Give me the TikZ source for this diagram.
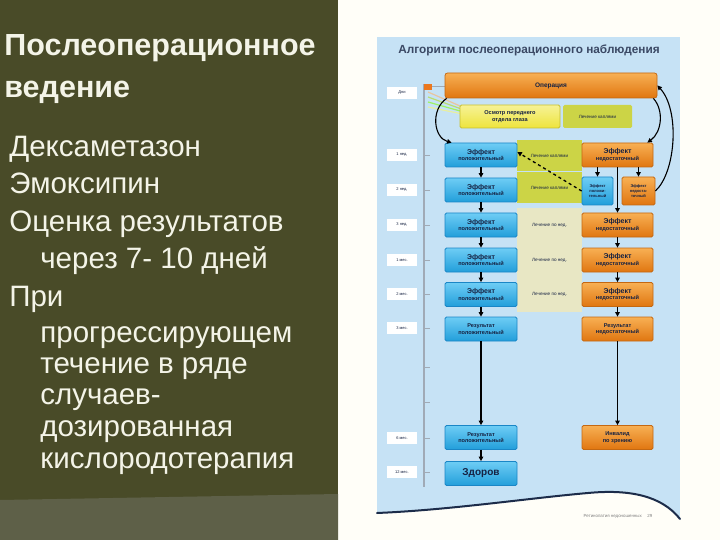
\documentclass[tikz,border=0pt]{standalone}
\usepackage{fontspec}
\setmainfont{Liberation Sans}
\usetikzlibrary{arrows.meta}

\definecolor{slidebg}{RGB}{73,75,40}
\definecolor{slidefoot}{RGB}{94,96,72}
\definecolor{slidetext}{RGB}{244,244,232}
\definecolor{paper}{RGB}{255,254,248}
\definecolor{panelblue}{RGB}{198,226,245}
\definecolor{waveline}{RGB}{28,44,74}
\definecolor{navy}{RGB}{22,34,66}
\definecolor{titlegray}{RGB}{58,72,100}
\definecolor{axisgray}{RGB}{160,170,182}
\definecolor{opmark}{RGB}{236,120,30}
\definecolor{posedge}{RGB}{26,134,198}
\definecolor{postop}{RGB}{110,205,245}
\definecolor{posbot}{RGB}{34,158,218}
\definecolor{negedge}{RGB}{196,104,18}
\definecolor{negtop}{RGB}{248,176,84}
\definecolor{negbot}{RGB}{224,118,16}
\definecolor{examedge}{RGB}{200,192,48}
\definecolor{examtop}{RGB}{246,242,150}
\definecolor{exambot}{RGB}{238,228,60}
\definecolor{dropgreen}{RGB}{204,212,70}
\definecolor{weekpale}{RGB}{232,231,196}

\tikzset{every picture/.style={line width=0.75pt}}
\tikzset{
  posbox/.style={draw=posedge, rounded corners=1.5pt, top color=postop, bottom color=posbot,
    text=navy, font=\fontsize{5.6}{6.4}\selectfont\bfseries, align=center,
    minimum width=72pt, minimum height=24pt, inner sep=1pt},
  negbox/.style={draw=negedge, rounded corners=1.5pt, top color=negtop, bottom color=negbot,
    text=navy, font=\fontsize{5.6}{6.4}\selectfont\bfseries, align=center,
    minimum width=71pt, minimum height=24pt, inner sep=1pt},
  smallpos/.style={posbox, font=\fontsize{4}{4.6}\selectfont\bfseries, minimum width=31pt, minimum height=28pt},
  smallneg/.style={negbox, font=\fontsize{4}{4.6}\selectfont\bfseries, minimum width=33pt, minimum height=28pt},
  dropcell/.style={fill=dropgreen, text=navy, font=\fontsize{4.6}{5.4}\selectfont,
    minimum width=65pt, minimum height=31pt, inner sep=0pt},
  weekcell/.style={fill=weekpale, text=navy, font=\fontsize{4.6}{5.4}\selectfont,
    minimum width=65pt, minimum height=34.5pt, inner sep=0pt},
  timelabel/.style={fill=white, text=navy, font=\fontsize{4}{4.6}\selectfont,
    minimum width=30pt, minimum height=12pt, inner sep=0pt},
  bodyline/.style={anchor=base west, inner sep=0pt, text=slidetext,
    font=\fontsize{29.5}{32}\selectfont},
  flow/.style={-{Triangle[length=4.5pt,width=4.5pt]}, line width=1.1pt, black},
}

\begin{document}
\begin{tikzpicture}[x=1pt,y=1pt,yscale=-1,xscale=1]
\useasboundingbox (0,0) rectangle (720,540);

%Shape: Rectangle (page)
\fill [paper] (0,0) rectangle (720,540);
%Shape: Rectangle (left slide panel)
\fill [slidebg] (0,0) rectangle (338,540);
\fill [slidefoot] (0,500) -- (338,494) -- (338,540) -- (0,540) -- cycle;

% Text Node
\node [bodyline, font=\fontsize{30.5}{32}\selectfont\bfseries] (head1) at (4,56) {Послеоперационное};
\node [bodyline, font=\fontsize{30.5}{32}\selectfont\bfseries] (head2) at (4,98) {ведение};
\node [bodyline] (line1) at (9,157) {Дексаметазон};
\node [bodyline] (line2) at (9,194) {Эмоксипин};
\node [bodyline] (line3) at (9,232) {Оценка результатов};
\node [bodyline] (line4) at (40,268) {через 7- 10 дней};
\node [bodyline] (line5) at (9,306) {При};
\node [bodyline] (line6) at (40,342) {прогрессирующем};
\node [bodyline] (line7) at (40,373) {течение в ряде};
\node [bodyline] (line8) at (40,404) {случаев-};
\node [bodyline] (line9) at (40,436) {дозированная};
\node [bodyline] (line10) at (40,468) {кислородотерапия};

%Shape: Panel with wave bottom
\fill [panelblue] (377,37) rectangle (680,522);
\fill [paper] (377,513) .. controls (450,510) and (530,498) .. (588,493) .. controls (630,489) and (662,496) .. (680,519) -- (684,526) -- (372,526) -- cycle;
\draw [line width=2pt, waveline, line cap=round] (377,513) .. controls (450,510) and (530,498) .. (588,493) .. controls (630,489) and (662,496) .. (680,519);

% Text Node
\node [text=titlegray, font=\fontsize{11.8}{13}\selectfont\bfseries] (algo) at (529,50) {Алгоритм послеоперационного наблюдения};
\node [text=gray, font=\fontsize{4.4}{5}\selectfont] (foot) at (618,516) {Ретинопатия недоношенных \quad 29};

%Straight Lines (time axis)
\draw [line width=2pt, axisgray] (424,84) -- (424,487);
\foreach \ty in {155,190,225,260,294,328,367,402,438,472}
  \draw [line width=0.5pt, axisgray] (425,\ty) -- (430,\ty);
\fill [opmark] (424,84) rectangle (432,90);
\draw [line width=0.6pt, axisgray] (432,86) -- (445,86);
\foreach \dy/\fc in {0/orange!60, 5/yellow!70!green, 10/green!50!yellow, 15/yellow!60}
  \draw [line width=1.2pt, \fc, opacity=0.6] (428,92+\dy) -- (460,106+\dy/2);

% Time labels
\node [timelabel] (tday) at (402,93) {Дни};
\node [timelabel] (tw1) at (402,155) {1 нед.};
\node [timelabel] (tw2) at (402,190) {2 нед.};
\node [timelabel] (tw3) at (402,225) {3 нед.};
\node [timelabel] (tm1) at (402,260) {1 мес.};
\node [timelabel] (tm2) at (402,294) {2 мес.};
\node [timelabel] (tm3) at (402,328) {3 мес.};
\node [timelabel] (tm6) at (402,438) {6 мес.};
\node [timelabel] (tm12) at (402,472) {12 мес.};

% Operation and first examination
\node [negbox, minimum width=212pt, minimum height=25pt, rounded corners=2.5pt, font=\fontsize{6.5}{7}\selectfont\bfseries] (op) at (551,85.5) {Операция};
\node [draw=examedge, rounded corners=1.5pt, top color=examtop, bottom color=exambot, text=navy, font=\fontsize{5.6}{6.4}\selectfont\bfseries, align=center, minimum width=100pt, minimum height=23pt, inner sep=1pt] (exam) at (510,116.5) {Осмотр переднего\\отдела глаза};
\node [dropcell, rounded corners=1.5pt, minimum width=69pt, minimum height=23pt] (drops0) at (597.5,116.5) {Лечение каплями};

% Middle cells
\node [dropcell] (drops1) at (549.5,155.5) {Лечение каплями};
\node [dropcell] (drops2) at (549.5,188) {Лечение каплями};
\node [weekcell] (weekly1) at (549.5,225.5) {Лечение по нед.};
\node [weekcell] (weekly2) at (549.5,260) {Лечение по нед.};
\node [weekcell] (weekly3) at (549.5,294.5) {Лечение по нед.};

% Positive branch
\node [posbox] (pw1) at (481,155) {\fontsize{7}{8}\selectfont Эффект\\положительный};
\node [posbox] (pw2) at (481,190) {\fontsize{7}{8}\selectfont Эффект\\положительный};
\node [posbox] (pw3) at (481,225) {\fontsize{7}{8}\selectfont Эффект\\положительный};
\node [posbox] (pm1) at (481,260) {\fontsize{7}{8}\selectfont Эффект\\положительный};
\node [posbox] (pm2) at (481,294.5) {\fontsize{7}{8}\selectfont Эффект\\положительный};
\node [posbox] (pm3) at (481,329) {Результат\\положительный};
\node [posbox] (pm6) at (481,437.5) {Результат\\положительный};
\node [posbox, font=\fontsize{10}{11}\selectfont\bfseries] (healthy) at (481,473.5) {Здоров};

% Insufficient branch
\node [negbox] (nw1) at (617.5,155) {\fontsize{7}{8}\selectfont Эффект\\недостаточный};
\node [smallpos] (spos) at (597.5,191) {Эффект\\положи-\\тельный};
\node [smallneg] (sneg) at (638.5,191) {Эффект\\недоста-\\точный};
\node [negbox] (nw3) at (617.5,225) {\fontsize{7}{8}\selectfont Эффект\\недостаточный};
\node [negbox] (nm1) at (617.5,260) {\fontsize{7}{8}\selectfont Эффект\\недостаточный};
\node [negbox] (nm2) at (617.5,294.5) {\fontsize{7}{8}\selectfont Эффект\\недостаточный};
\node [negbox] (nm3) at (617.5,329) {Результат\\недостаточный};
\node [negbox] (blind) at (617.5,437.5) {Инвалид\\по зрению};

% Connectors
\draw [flow] ([xshift=2pt]op.south west) .. controls (430,110) and (434,138) .. ([xshift=7pt]pw1.north west);
\draw [flow] ([xshift=-4pt]op.south east) .. controls (664,110) and (662,132) .. ([xshift=-6pt]nw1.north east);
\draw [flow] (sneg.east) .. controls (676,172) and (680,110) .. (op.east);

\draw [flow] (pw1) -- (pw2);
\draw [flow] (pw2) -- (pw3);
\draw [flow] (pw3) -- (pm1);
\draw [flow] (pm1) -- (pm2);
\draw [flow] (pm2) -- (pm3);
\draw [flow] (pm3) -- (pm6);
\draw [flow] (pm6) -- (healthy);

\draw [flow] (spos.north |- nw1.south) -- (spos.north);
\draw [flow] (sneg.north |- nw1.south) -- (sneg.north);
\draw [flow] (nw1) -- (nw3);
\draw [flow] (nw3) -- (nm1);
\draw [flow] (nm1) -- (nm2);
\draw [flow] (nm2) -- (nm3);
\draw [flow] (nm3) -- (blind);
\draw [flow, dashed, line width=1.3pt] (spos.west) -- ([yshift=-3pt]pw1.east);

\end{tikzpicture}
\end{document}
